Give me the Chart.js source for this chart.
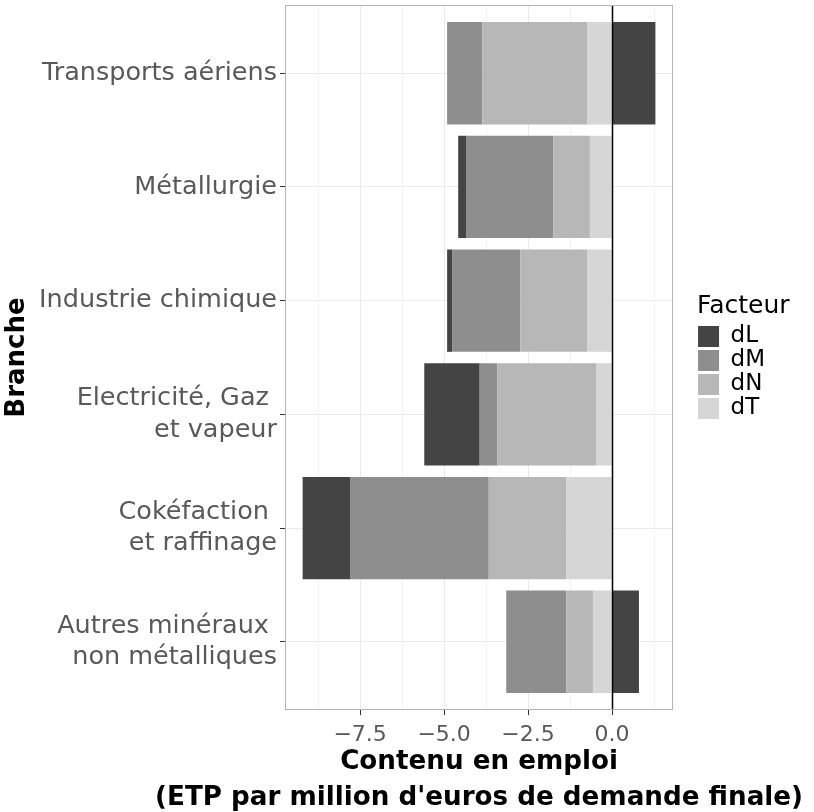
<!DOCTYPE html>
<html>
<head>
<meta charset="utf-8">
<script src="https://cdn.jsdelivr.net/npm/chart.js@4"></script>
<style>
  html, body { margin: 0; padding: 0; background: #fff; }
  #wrap { width: 814px; height: 812px; }
</style>
</head>
<body>
<div id="wrap"><canvas id="chart"></canvas></div>
<script>
// Branches, du haut vers le bas
const branches = [
    'Transports aériens',
    'Métallurgie',
    'Industrie chimique',
    ['Electricité, Gaz ', 'et vapeur'],
    ['Cokéfaction ', 'et raffinage'],
    ['Autres minéraux ', 'non métalliques']
];

// Contributions par facteur (ETP par million d'euros)
const dL = [1.29, -0.25, -0.16, -1.65, -1.41, 0.80];
const dM = [-1.05, -2.58, -2.02, -0.53, -4.13, -1.79];
const dN = [-3.13, -1.09, -2.00, -2.95, -2.31, -0.79];
const dT = [-0.73, -0.66, -0.73, -0.46, -1.36, -0.57];

const xMajorTicks = [-7.5, -5.0, -2.5, 0.0];
const xTickLabels = ['−7.5', '−5.0', '−2.5', '0.0'];
const xMinorTicks = [-8.75, -6.25, -3.75, -1.25, 1.25];

const xTitle = ['Contenu en emploi', "(ETP par million d'euros de demande finale)"];

const textGrey = '#595959';

Chart.defaults.font.family = "'DejaVu Sans', sans-serif";

// dT d'abord pour qu'il soit collé au zéro, puis dN, dM, dL
const series = [
    { label: 'dT', values: dT, color: '#d6d6d6' },
    { label: 'dN', values: dN, color: '#b7b7b7' },
    { label: 'dM', values: dM, color: '#8e8e8e' },
    { label: 'dL', values: dL, color: '#444444' }
];

const isMajor = v => xMajorTicks.some(m => Math.abs(m - v) < 1e-6);

// ligne verticale à zéro, cadre du panneau, titre de l'axe x, décalage de la légende
const panelPlugin = {
    id: 'panel',
    afterLayout(chart) {
        const lg = chart.legend;
        if (lg) { lg.left += 24; lg.right += 80; }
    },
    afterDatasetsDraw(chart) {
        const { ctx, chartArea: a, scales: { x } } = chart;
        const x0 = Math.round(x.getPixelForValue(0)) + 0.5;
        ctx.save();
        ctx.strokeStyle = '#000';
        ctx.lineWidth = 1.5;
        ctx.beginPath();
        ctx.moveTo(x0, a.top);
        ctx.lineTo(x0, a.bottom);
        ctx.stroke();
        ctx.strokeStyle = '#b3b3b3';
        ctx.lineWidth = 1;
        ctx.strokeRect(a.left + 0.5, a.top + 0.5, a.width - 1, a.height - 1);
        ctx.restore();
    },
    afterDraw(chart) {
        const { ctx, chartArea: a } = chart;
        const cx = (a.left + a.right) / 2;
        ctx.save();
        ctx.fillStyle = '#000';
        ctx.font = "bold 26.2px 'DejaVu Sans'";
        ctx.textAlign = 'center';
        ctx.textBaseline = 'alphabetic';
        ctx.fillText(xTitle[0], cx, a.bottom + 59);
        ctx.fillText(xTitle[1], cx, a.bottom + 95);
        ctx.restore();
    }
};

new Chart(document.getElementById('chart'), {
    type: 'bar',
    data: {
        datasets: series.map(s => ({
            label: s.label,
            data: s.values.map((v, i) => ({ x: v, y: i })),
            backgroundColor: s.color,
            borderWidth: 0,
            categoryPercentage: 1,
            barPercentage: 0.9
        }))
    },
    options: {
        indexAxis: 'y',
        responsive: true,
        maintainAspectRatio: false,
        animation: false,
        layout: { padding: { left: 0, right: 63, top: 5, bottom: 0 } },
        plugins: {
            tooltip: { enabled: false },
            legend: {
                position: 'right',
                fullSize: false,
                reverse: true,
                title: {
                    display: true,
                    text: 'Facteur',
                    position: 'start',
                    color: '#000',
                    font: { size: 25 },
                    padding: 0
                },
                labels: {
                    color: '#000',
                    font: { size: 23 },
                    boxWidth: 21,
                    boxHeight: 21,
                    padding: 1
                }
            }
        },
        scales: {
            x: {
                type: 'linear',
                stacked: true,
                min: -9.735,
                max: 1.815,
                afterBuildTicks: s => {
                    s.ticks = [...xMajorTicks, ...xMinorTicks].sort((a, b) => a - b).map(v => ({ value: v }));
                },
                afterFit: s => {
                    s.height = 102;
                    s.paddingLeft = 0;
                    s.paddingRight = 0;
                },
                ticks: {
                    autoSkip: false,
                    maxRotation: 0,
                    padding: 7,
                    color: textGrey,
                    font: { size: 22 },
                    callback: v => {
                        const k = xMajorTicks.findIndex(m => Math.abs(m - v) < 1e-6);
                        return k >= 0 ? xTickLabels[k] : '';
                    }
                },
                grid: {
                    color: c => (c.tick && isMajor(c.tick.value)) ? '#e9e9e9' : '#f3f3f3',
                    tickColor: c => (c.tick && isMajor(c.tick.value)) ? '#333' : 'rgba(0,0,0,0)',
                    tickLength: 5
                },
                border: { display: false }
            },
            y: {
                type: 'linear',
                stacked: true,
                reverse: true,
                offset: false,
                min: -0.6,
                max: 5.6,
                afterBuildTicks: s => {
                    s.ticks = branches.map((b, i) => ({ value: i }));
                },
                afterFit: s => {
                    s.width = 285;
                    s.paddingTop = 0;
                    s.paddingBottom = 0;
                },
                ticks: {
                    autoSkip: false,
                    padding: 3,
                    color: textGrey,
                    font: { size: 25.5, lineHeight: 1.24 },
                    callback: v => branches[v]
                },
                grid: {
                    offset: false,
                    color: '#ebebeb',
                    tickColor: '#333',
                    tickLength: 5
                },
                border: { display: false },
                title: {
                    display: true,
                    text: 'Branche',
                    color: '#000',
                    font: { size: 26, weight: 'bold' },
                    padding: { top: 2, bottom: 0 }
                }
            }
        }
    },
    plugins: [panelPlugin]
});
</script>
</body>
</html>
